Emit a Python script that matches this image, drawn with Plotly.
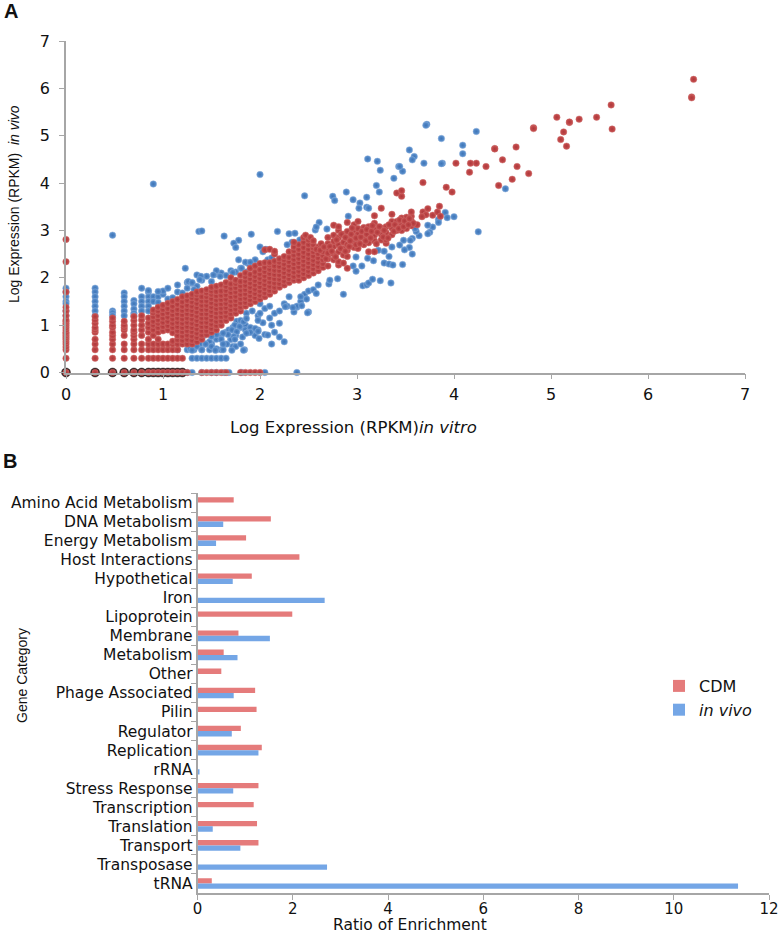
import plotly.graph_objects as go

W, H = 783, 935

# ---------- Panel A: values ----------
red_cols = [
 (0.0,[0,0.3,0.48,0.54,0.6,0.65,0.7,0.74,0.78,0.82,0.85,0.9,0.95,1.0,1.04,1.08,1.11,1.2,1.3,1.38,1.7,2.34,2.81]),
 (0.3,[0,0.3,0.48,0.6,0.7,0.85,0.9,0.95,1.04,1.11,1.18]),
 (0.48,[0,0.3,0.48,0.6,0.7,0.78,0.85,0.95,1.0,1.08,1.15]),
 (0.6,[0,0.3,0.48,0.6,0.78,0.9,0.95,1.0,1.08]),
 (0.7,[0,0.3,0.48,0.6,0.7,0.78,0.85,0.9,1.0,1.1,1.18]),
 (0.78,[0,0.3,0.48,0.6,0.78,0.9,1.0,1.11,1.2]),
 (0.85,[0,0.3,0.48,0.6,0.7,0.85,0.95,1.04,1.15]),
 (0.9,[0,0.3,0.48,0.6,0.78,0.9,1.0,1.08,1.18,1.26,1.32]),
 (0.95,[0,0.3,0.48,0.6,0.7,0.85,0.95,1.04,1.11,1.2,1.3,1.38]),
 (1.0,[0,0.3,0.48,0.6,0.88,0.97,1.06,1.15,1.24,1.33,1.42]),
 (1.05,[0,0.3,0.48,0.6,0.9,0.99,1.08,1.17,1.26,1.35,1.46]),
 (1.1,[0,0.3,0.48,0.6,0.66,0.84,0.95,1.04,1.13,1.22,1.31,1.4,1.5]),
 (1.15,[0,0.3,0.48,0.6,0.69,0.78,0.88,0.97,1.06,1.15,1.24,1.33,1.44,1.54]),
 (1.2,[0,0.3,0.6,0.68,0.77,0.86,0.95,1.04,1.13,1.22,1.31,1.4,1.49,1.6]),
 (1.25,[0,0.6,0.7,0.79,0.88,0.97,1.06,1.15,1.24,1.33,1.42,1.52,1.62]),
 (1.3,[0.6,0.68,0.77,0.86,0.95,1.04,1.13,1.22,1.31,1.4,1.49,1.58,1.65]),
 (1.35,[0.65,0.74,0.83,0.92,1.01,1.1,1.19,1.28,1.37,1.46,1.55,1.64,1.7]),
 (1.4,[0,0.7,0.79,0.88,0.97,1.06,1.15,1.24,1.33,1.42,1.51,1.6,1.72]),
 (1.45,[0,0.8,0.88,0.97,1.06,1.15,1.24,1.33,1.42,1.51,1.6,1.68,1.75]),
 (1.5,[0,0.85,0.93,1.02,1.11,1.2,1.29,1.38,1.47,1.56,1.65,1.72,1.8]),
 (1.55,[0,0.9,0.99,1.08,1.17,1.26,1.35,1.44,1.53,1.62,1.71,1.82]),
 (1.6,[0,1.0,1.09,1.18,1.27,1.36,1.45,1.54,1.63,1.72,1.85]),
 (1.65,[0,1.1,1.19,1.28,1.37,1.46,1.55,1.64,1.73,1.82,1.9]),
 (1.7,[1.15,1.24,1.33,1.42,1.51,1.6,1.69,1.78,1.87,2.0]),
 (1.75,[1.25,1.34,1.43,1.52,1.61,1.7,1.79,1.88,1.95]),
 (1.8,[0,1.3,1.38,1.47,1.56,1.65,1.74,1.83,1.92,2.05]),
 (1.85,[0,1.4,1.48,1.57,1.66,1.75,1.84,1.93,2.02,2.1]),
 (1.9,[0,1.45,1.53,1.62,1.71,1.8,1.89,1.98,2.07,2.2]),
 (1.95,[0,1.5,1.58,1.67,1.76,1.85,1.94,2.03,2.12,2.25]),
 (2.0,[0,1.55,1.63,1.72,1.81,1.9,1.99,2.08,2.17,2.3]),
 (2.05,[1.6,1.68,1.77,1.86,1.95,2.04,2.13,2.22,2.32,2.59]),
 (2.1,[1.65,1.73,1.82,1.91,2.0,2.09,2.18,2.27,2.32,2.6]),
 (2.15,[1.72,1.8,1.89,1.98,2.07,2.16,2.25,2.35,2.5,2.56]),
 (2.2,[1.8,1.88,1.97,2.06,2.15,2.24,2.33,2.4]),
 (2.25,[1.85,1.93,2.02,2.11,2.2,2.29,2.38,2.45]),
 (2.3,[1.9,1.98,2.07,2.16,2.25,2.34,2.43,2.55]),
 (2.35,[1.95,2.03,2.12,2.21,2.3,2.39,2.48,2.57,2.65]),
 (2.4,[1.95,2.05,2.14,2.23,2.32,2.41,2.5,2.6,2.7]),
 (2.45,[2.0,2.09,2.18,2.27,2.36,2.45,2.54,2.64,2.75,2.85]),
 (2.5,[2.05,2.14,2.23,2.32,2.41,2.5,2.6,2.7,2.8]),
 (2.55,[2.1,2.19,2.28,2.37,2.46,2.55,2.63,2.7]),
 (2.6,[2.15,2.24,2.33,2.42,2.51,2.65]),
 (2.65,[2.22,2.3,2.38,2.47,2.55]),
 (2.7,[2.25,2.4,2.48,2.6,2.72,2.85]),
 (2.76,[2.38,2.5,2.66,2.77,2.9,3.11]),
 (2.81,[2.27,2.34,2.55,2.7,2.85,3.0,3.08]),
 (2.86,[2.31,2.48,2.62,2.75,2.92]),
 (2.9,[2.2,2.45,2.58,2.7,2.84,2.98,3.17]),
 (2.97,[2.64,2.76,2.88,3.0,3.12]),
 (3.01,[2.62,2.78,2.92,3.04,3.19]),
 (3.07,[2.7,2.84,2.98,3.06]),
 (3.12,[2.55,2.74,2.9,3.08]),
 (3.18,[2.55,2.78,2.9,3.02,3.15,3.31]),
 (3.25,[2.8,2.92,3.05,3.47]),
 (3.3,[2.73,2.8,2.95,3.08]),
 (3.36,[2.91,3.05,3.19,3.34]),
 (3.41,[3.0,3.1,3.19,3.79]),
 (3.46,[3.0,3.12,3.26,3.72,3.84]),
 (3.51,[3.04,3.15,3.28]),
 (3.56,[3.1,3.2,3.3,3.39]),
 (3.62,[3.12]),
]
red_x_extra = [3.58,3.68,3.68,3.71,3.73,3.78,3.83,3.85,3.86,3.92,3.98,3.67,4.02,4.16,4.17,4.23,4.33,4.42,4.42,4.46,4.5,4.6,4.64,4.65,4.77,4.82,4.82,5.06,5.1,5.13,5.16,5.19,5.19,5.29,5.47,5.62,5.63,6.45,6.45,6.47,
 2.58,2.62,2.63,2.66,2.68,2.7,2.72,2.74,2.78,2.79,2.83,2.84,2.88,2.88,2.92,2.93,2.94,2.95,2.99,2.99,3.03,3.04,3.05,3.09,3.1,3.1,3.14,3.15,3.16,3.2,3.21,3.23,3.27,3.28,3.32,3.33,3.38,3.39,3.43,3.44,3.48,3.49,3.53,3.54,
 2.35,2.47,2.52,2.55]
red_y_extra = [3.15,3.39,4.01,3.33,3.46,3.32,3.39,3.51,3.3,3.91,3.81,3.29,4.42,4.23,4.42,4.42,4.35,4.73,4.72,3.95,4.49,4.08,4.76,4.35,4.2,5.17,5.15,5.39,4.92,5.08,4.78,5.28,5.29,5.35,5.39,5.65,5.14,5.82,5.8,6.19,
 2.6,2.58,2.72,2.65,2.4,2.52,2.66,2.56,2.44,2.8,2.62,2.92,2.56,2.85,2.66,2.78,2.92,3.05,2.7,2.84,2.72,2.86,2.98,2.78,2.92,3.02,2.84,2.98,3.1,2.72,2.96,3.08,2.86,3.0,2.84,3.12,2.98,3.12,3.04,3.22,3.08,3.2,3.12,3.25,
 2.75,2.9,2.85,2.78]

blue_x = [0.9,0.48,2.0,2.46,1.37,1.4,1.63,1.78,1.73,1.75,1.91,2.18,2.3,2.36,2.33,2.28,2.41,2.57,2.61,2.58,2.69,2.75,2.77,2.89,2.96,3.03,3.02,3.1,3.1,3.12,3.11,3.21,3.24,3.2,3.23,3.38,3.43,2.91,
 3.06,3.1,3.12,3.16,3.24,3.35,2.86,2.71,2.99,2.96,3.05,2.99,3.11,3.17,3.22,3.28,3.33,3.28,3.33,3.37,3.36,
 3.72,3.71,3.87,4.23,4.09,4.09,3.54,3.59,3.57,3.69,3.88,3.87,3.47,3.44,4.53,4.25,3.91,4.0,3.93,3.84,3.84,3.78,3.73,3.75,3.73,3.64,3.61,3.6,3.57,3.55,3.48,3.44,3.54,3.49,3.57,3.47,
 0,0,0,0,0,0,0, 0.3,0.3,0.3,0.3,0.3,0.3,0.3, 0.48,0.48,0.48, 0.6,0.6,0.6,0.6,0.6,0.6, 0.7,0.7,0.7,0.7,0.7, 0.78,0.78,0.78,0.78,0.78, 0.85,0.85,0.85,0.85,0.85, 0.9,0.9,0.95,0.95,
 1.0,1.05,1.1,1.0,1.15,1.25,1.3,1.35,1.2,1.25,1.32,1.4,1.45,1.5,1.55,1.6,1.65,1.7,1.75,1.8,1.88,1.93,1.95,2.0,2.03,2.06,2.08,2.12,
 1.3,1.35,1.4,1.45,1.5,1.55,1.6,1.65,1.25,1.3,1.4,1.5,1.55,1.63,1.68,1.81,2.05,2.38,1.15,1.25,1.32,1.4,1.48,1.55,1.6,1.84,1.3,1.38,1.44,1.5,1.64,
 1.5,1.55,1.6,1.65,1.7,1.75,1.8,1.82,1.85,1.9,1.95,1.98,2.03,2.1,1.72,1.76,1.68,1.8,1.86,1.92,2.0,2.05,2.1,2.15,2.2,2.25,2.28,2.35,2.38,2.42,2.46,2.48,2.5,2.42,2.5,2.55,2.6,2.72,2.8,
 1.25,1.28,1.35,1.42,1.48,1.6,1.66,1.72,1.85,1.88,1.95,2.05,2.15,2.2,2.25,1.9,1.98,2.12,
 1.28,1.35,1.4,1.5,1.55,1.62,1.7,1.75,1.8,1.9,1.98,2.3,2.38,
 1.74,1.79,1.71,1.76,1.83,1.86,1.73,1.74,1.67,1.62,1.55,1.5,1.95,1.98,1.99,2.08,2.12,1.86,1.44,1.54,1.62,1.71,1.83,1.3,
 2.0,2.2,2.26,2.34,2.43,2.49,2.58,
 0.85,0.95,1.05,1.15,1.23,1.26,1.3,1.35,1.39,1.55,1.52,1.59,1.38,1.72,1.78,1.85,1.9,1.81,1.86,
]
blue_y = [3.98,2.9,4.18,3.73,2.98,2.99,2.88,2.79,2.73,2.64,2.92,2.98,2.93,2.94,2.75,2.7,2.8,3.01,3.17,3.07,3.03,3.72,3.63,3.81,3.65,3.58,3.47,3.7,3.49,3.47,4.51,4.46,4.27,3.95,3.81,4.1,4.35,3.3,
 1.83,1.85,1.89,1.97,1.94,1.89,1.65,1.87,2.14,2.25,2.25,2.44,2.41,2.36,2.58,2.56,2.45,2.31,2.29,2.27,2.65,
 5.24,5.22,4.94,5.09,4.8,4.62,4.7,4.56,4.49,4.42,4.42,4.41,4.25,4.35,3.88,2.97,3.38,3.29,3.27,3.23,3.17,3.07,3.11,2.96,2.93,2.89,2.98,3.04,2.83,2.79,2.79,2.69,2.64,2.59,2.5,2.28,
 1.78,1.7,1.6,1.5,1.45,1.3,1.2, 1.78,1.7,1.6,1.5,1.4,1.3,1.2, 1.3,1.26,1.2, 1.68,1.6,1.5,1.4,1.3,1.2, 1.52,1.45,1.34,1.25,1.2, 1.78,1.6,1.5,1.4,1.3, 1.7,1.6,1.5,1.4,1.3, 1.6,1.5,1.6,1.48,
 1.65,1.55,1.58,1.72,1.7,1.9,1.88,1.82,1.68,1.78,1.75,1.95,2.03,1.92,2.08,2.1,2.05,2.15,2.12,2.2,2.3,2.25,2.38,2.65,2.55,2.6,2.38,2.42,
 0.3,0.3,0.3,0.3,0.3,0.3,0.3,0.3,0,0,0,0,0,0,0,0,0,0,0.48,0.48,0.48,0.48,0.48,0.48,0.48,0.48,0.6,0.6,0.6,0.6,0.6,
 0.6,0.7,0.78,0.85,0.7,0.78,0.95,0.75,1.0,0.85,0.9,1.2,1.05,1.15,0.95,1.08,0.9,1.1,1.25,1.3,1.45,1.35,1.4,1.25,1.3,1.45,1.4,1.28,1.38,1.5,1.65,1.55,1.28,1.6,1.72,1.75,1.85,1.95,1.98,
 0.85,0.9,0.75,0.78,0.65,0.7,0.6,0.55,0.9,0.85,0.78,0.8,0.85,0.75,0.65,0.95,1.1,1.0,
 0.5,0.55,0.48,0.55,0.5,0.48,0.7,0.55,0.6,0.85,0.9,1.6,1.4,
 1.0,0.97,0.9,0.86,1.07,1.14,0.76,0.7,0.8,0.83,0.8,0.76,0.93,0.87,0.72,0.79,0.6,0.83,0.6,0.47,0.6,0.47,0.47,0.47,
 1.25,1.04,1.39,1.37,1.41,1.26,1.67,
 1.73,1.71,1.78,1.85,2.2,1.92,1.9,2.06,2.03,2.15,2.06,2.03,1.96,2.11,2.38,2.33,2.33,2.2,2.12,
]
dark_x = [0,0.3,0.48,0.6,0.7,0.78,0.85,0.9,0.95,1.0,1.05,1.1,1.15,1.2]
dark_y = [0,0,0,0,0,0,0,0,0,0,0,0,0,0]

# ---------- Panel B ----------
categories = ["Amino Acid Metabolism","DNA Metabolism","Energy Metabolism","Host Interactions","Hypothetical","Iron","Lipoprotein","Membrane","Metabolism","Other","Phage Associated","Pilin","Regulator","Replication","rRNA","Stress Response","Transcription","Translation","Transport","Transposase","tRNA"]
cdm_values = [0.76,1.54,1.02,2.14,1.14,0,1.99,0.86,0.55,0.5,1.21,1.24,0.91,1.35,0,1.28,1.18,1.25,1.28,0,0.3]
invivo_values = [0,0.54,0.39,0,0.74,2.67,0,1.52,0.84,0,0.76,0,0.72,1.28,0.03,0.75,0,0.32,0.9,2.72,11.35]

red_x = [x for x, ys in red_cols for _ in ys] + red_x_extra
red_y = [y for _, ys in red_cols for y in ys] + red_y_extra

fig = go.Figure()
def pts(x, y, col, edge, inner, size=6.5):
    fig.add_trace(go.Scatter(x=x, y=y, mode="markers", xaxis="x", yaxis="y", showlegend=False, cliponaxis=False,
                             marker=dict(color=inner, size=size, line=dict(color=edge, width=0.8),
                                         gradient=dict(type="radial", color=col))))
pts(blue_x, blue_y, "#3f74b6", "rgba(140,170,215,0.6)", "#5c93d0")
pts(dark_x, dark_y, "#1a1010", "rgba(60,40,40,0.6)", "#2a1a1a", 9)
pts(red_x, red_y, "#ad383c", "rgba(200,110,110,0.55)", "#c94f4e")

fig.add_trace(go.Bar(y=categories, x=cdm_values, name="CDM", orientation="h", xaxis="x2", yaxis="y2",
                     marker=dict(color="#e57b7b", line_width=0)))
fig.add_trace(go.Bar(y=categories, x=invivo_values, name="<i>in vivo</i>", orientation="h", xaxis="x2", yaxis="y2",
                     marker=dict(color="#74a6e6", line_width=0)))

axis_style = dict(showgrid=False, zeroline=False, showline=True, linecolor="#a6a6a6", linewidth=1.5,
                  ticks="outside", tickcolor="#a6a6a6", ticklen=5, tickwidth=1,
                  tickfont=dict(family="DejaVu Sans", size=16, color="#111"))
fig.update_layout(
    width=W, height=H, margin=dict(l=0, r=0, t=0, b=0, autoexpand=False), paper_bgcolor="white", plot_bgcolor="white",
    barmode="group", bargap=0.44, bargroupgap=0,
    xaxis=dict(domain=[66/W, 745/W], range=[0, 7], dtick=1, anchor="y", ticklabelstandoff=2, **axis_style),
    yaxis=dict(domain=[1-372.5/H, 1-41/H], range=[0, 7], dtick=1, anchor="x", ticklabelstandoff=6, **axis_style),
    xaxis2=dict(domain=[197.5/W, 769/W], range=[0, 12], dtick=2, anchor="y2", ticklabelstandoff=-4,
                **{**axis_style, "tickfont": dict(family="DejaVu Sans", size=15, color="#111")}),
    yaxis2=dict(domain=[1-893/H, 1-493/H], autorange="reversed", anchor="x2", tickson="boundaries", ticklabelstandoff=0,
                **{**axis_style, "tickfont": dict(family="DejaVu Sans", size=15.5, color="#111")}),
    legend=dict(x=659/W, y=1-669/H, xanchor="left", yanchor="top", traceorder="normal", bgcolor="rgba(0,0,0,0)",
                font=dict(family="DejaVu Sans", size=16, color="#111"), itemwidth=30, tracegroupgap=4),
)
def note(text, x, y, size, family="Liberation Sans", angle=0):
    fig.add_annotation(text=text, x=x/W, y=1-y/H, xref="paper", yref="paper", showarrow=False, textangle=angle,
                       font=dict(family=family, size=size, color="#111"), xanchor="center", yanchor="middle")
note("<b>A</b>", 11, 11, 20)
note("<b>B</b>", 10, 461, 20)
note("Log Expression (RPKM)  <i>in vivo</i>", 14, 204, 14, angle=-90)
note("Log Expression (RPKM)<i>in vitro</i>", 353, 427, 16.5, family="DejaVu Sans")
note("Gene Category", 22, 676, 14, angle=-90)
note("Ratio of Enrichment", 410, 925, 15.5, family="DejaVu Sans")

fig.write_html("out.html", config={"displayModeBar": False}, post_script="document.body.style.margin='0';")
